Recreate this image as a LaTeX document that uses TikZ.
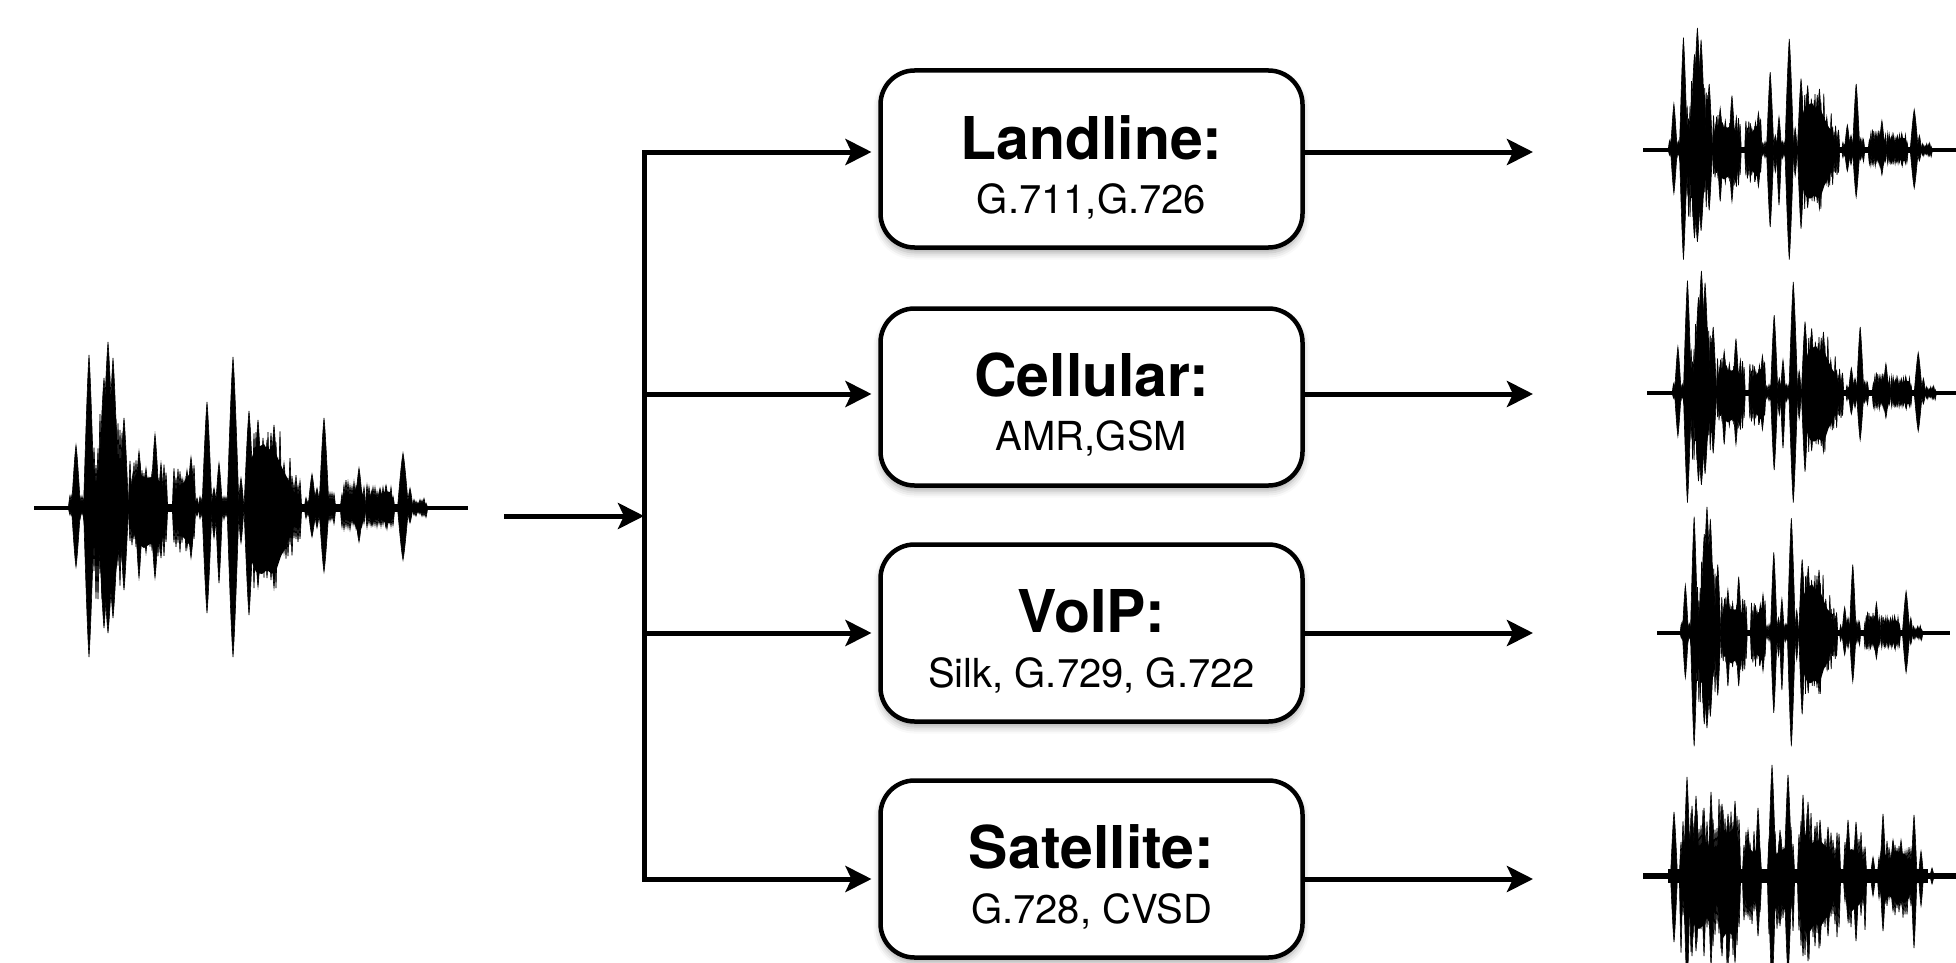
\documentclass[tikz,border=0pt]{standalone}
\usepackage{fontspec}
\setmainfont{TeX Gyre Heros}
\usetikzlibrary{arrows.meta,shadows.blur}

% one burst of a speech waveform: centre, height above axis, depth below, half width
\newcommand\wspike[4]{%
  \filldraw[line width=0.6pt] (#1-#4,0)
    .. controls (#1-0.7*#4,0.35*#2) and (#1-0.3*#4,0.85*#2) .. (#1,#2)
    .. controls (#1+0.3*#4,0.85*#2) and (#1+0.7*#4,0.35*#2) .. (#1+#4,0)
    .. controls (#1+0.7*#4,-0.35*#3) and (#1+0.3*#4,-0.85*#3) .. (#1,-#3)
    .. controls (#1-0.3*#4,-0.85*#3) and (#1-0.7*#4,-0.35*#3) .. cycle;}

% fine texture: thin bursts of random size every 2 units over a stretch
\newcommand\whair[1]{%
  \foreach \ha/\hb/\hu/\hd in {#1} {%
    \pgfmathtruncatemacro\hn{(\hb-\ha)/2}%
    \foreach \hi in {0,...,\hn} {%
      \pgfmathsetmacro\hx{\ha+2*\hi}%
      \pgfmathsetmacro\hh{\hu*(0.45+0.55*rnd)}%
      \pgfmathsetmacro\hdd{\hd*(0.45+0.55*rnd)}%
      \wspike{\hx}{\hh}{\hdd}{1.7}}}}

% bursts of the clean utterance (x from 0 to 434)
\def\speechspikes{42/63/59/4.5, 55/153/149/5.5, 64/25/20/3, 70/130/120/6,
  74/166/125/7, 79/150/110/6, 90/90/82/4.5, 99/35/30/3, 105/57/70/4,
  112/40/45/3, 121/74/70/4.5, 127/45/50/3, 148/30/30/3, 153/38/40/3,
  157/51/50/4, 163/10/8/2, 173/106/105/5, 180/20/30/3, 185/45/75/3.5,
  199/151/149/6, 207/30/35/3, 215/97/107/5, 224/88/79/4.5, 229/70/65/3,
  233/68/70/3, 237/75/72/3, 240/83/80/4.5, 250/45/45/3, 278/34/29/4,
  283/20/20/3, 290/90/64/5, 313/12/10/3, 320/20/16/3, 325/40/34/4,
  338/18/18/3, 346/20/15/3, 352/23/20/3, 369/55/52/5.5, 376/20/15/3, 388/6/5/2}

% clean utterance in local units, axis at y=0, amplitude upwards
\newcommand\speechwave{%
  \pgfmathsetseed{4711}%
  \draw[line width=4.5pt] (0,0) -- (434,0);
  \fill (38,-4) rectangle (392,4);
  \fill (60,5) -- (63,30) -- (67,55) -- (72,70) -- (77,75) -- (81,55) -- (85,30) -- (88,8)
     -- (85,-40) -- (81,-70) -- (77,-85) -- (72,-80) -- (67,-60) -- (63,-30) -- (60,-5) -- cycle;
  \fill (94,4) -- (97,22) -- (100,30) -- (104,38) -- (108,32) -- (113,30) -- (118,31) -- (124,28)
     -- (128,25) -- (132,6) -- (132,-8) -- (128,-34) -- (122,-38) -- (116,-36) -- (110,-40)
     -- (104,-36) -- (100,-26) -- (96,-5) -- cycle;
  \fill (140,4) -- (142,16) -- (146,22) -- (150,26) -- (154,32) -- (158,38) -- (161,8)
     -- (161,-10) -- (158,-40) -- (154,-35) -- (150,-30) -- (146,-26) -- (142,-18) -- (140,-4) -- cycle;
  \fill (214,8) -- (217,48) -- (221,60) -- (226,62) -- (230,64) -- (234,57) -- (238,62) -- (242,54)
     -- (246,45) -- (250,36) -- (254,29) -- (258,20) -- (262,12) -- (267,4)
     -- (267,-4) -- (262,-14) -- (257,-26) -- (252,-39) -- (247,-48) -- (243,-60) -- (238,-66)
     -- (233,-62) -- (228,-66) -- (222,-64) -- (217,-52) -- (214,-10) -- cycle;
  \fill (308,3) -- (312,8) -- (316,12) -- (320,15) -- (324,26) -- (328,17) -- (331,4)
     -- (331,-4) -- (328,-19) -- (324,-26) -- (320,-14) -- (316,-10) -- (312,-7) -- (308,-3) -- cycle;
  \fill (333,3) -- (336,12) -- (340,14) -- (344,10) -- (348,15) -- (352,17) -- (356,16) -- (360,7)
     -- (360,-7) -- (356,-15) -- (352,-15) -- (348,-12) -- (344,-9) -- (340,-13) -- (336,-10) -- (333,-3) -- cycle;
  \whair{36/50/14/14, 60/88/95/95, 96/132/48/50, 140/161/44/48, 166/196/12/12,
         214/246/82/82, 246/267/50/52, 272/300/16/16, 308/331/28/27, 333/360/24/22, 380/392/10/10}
  \foreach \px/\pu/\pd/\pw in \speechspikes {\wspike{\px}{\pu}{\pd}{\pw}}
}

% bursts of the noisy satellite version
\def\satspikes{31/64/66/3.5, 44/99/115/3.5, 49/70/80/2.5, 53/80/75/3, 61/68/80/2.5,
  68/84/90/3, 79/72/80/3, 85/62/90/3, 92/75/85/3, 105/46/40/3, 115/68/60/3,
  129/111/115/4, 137/46/50/2.5, 145/101/100/4, 160/81/80/3, 165/74/85/3,
  172/50/70/2.5, 177/56/70/3, 185/49/60/3, 205/56/45/3, 213/54/65/3,
  230/19/20/2.5, 240/62/55/3, 250/36/35/3, 258/36/30/3, 271/61/72/3,
  278/25/30/2.5, 289/8/8/2}

\newcommand\satwave{%
  \pgfmathsetseed{2024}%
  \draw[line width=5.5pt] (0,0) -- (320,0);
  \fill (25,-7) rectangle (285,7);
  \fill (40,8) -- (44,28) -- (48,27) -- (52,35) -- (56,30) -- (60,32) -- (64,28) -- (68,35) -- (72,14)
     -- (72,-18) -- (68,-50) -- (64,-42) -- (60,-50) -- (56,-53) -- (52,-50) -- (48,-42) -- (44,-32) -- (40,-8) -- cycle;
  \fill (74,8) -- (76,40) -- (80,47) -- (84,43) -- (88,45) -- (92,50) -- (95,36) -- (97,8)
     -- (97,-8) -- (95,-50) -- (92,-62) -- (88,-58) -- (84,-56) -- (80,-62) -- (76,-50) -- (74,-8) -- cycle;
  \fill (101,5) -- (103,25) -- (107,27) -- (111,23) -- (115,29) -- (118,6)
     -- (118,-6) -- (115,-32) -- (111,-25) -- (107,-32) -- (103,-27) -- (101,-5) -- cycle;
  \fill (126,5) -- (128,28) -- (133,22) -- (138,25) -- (142,28) -- (148,32) -- (150,8)
     -- (150,-8) -- (148,-36) -- (142,-34) -- (138,-28) -- (133,-32) -- (128,-36) -- (126,-5) -- cycle;
  \fill (156,6) -- (159,43) -- (164,40) -- (168,32) -- (172,35) -- (177,36) -- (182,30) -- (186,27)
     -- (190,18) -- (196,5) -- (196,-5) -- (190,-28) -- (186,-40) -- (182,-43) -- (177,-52)
     -- (172,-47) -- (168,-54) -- (164,-58) -- (159,-50) -- (156,-6) -- cycle;
  \fill (202,5) -- (204,22) -- (208,27) -- (212,25) -- (216,22) -- (220,16) -- (222,5)
     -- (222,-5) -- (220,-22) -- (216,-29) -- (212,-32) -- (208,-36) -- (204,-25) -- (202,-5) -- cycle;
  \fill (236,5) -- (238,14) -- (242,22) -- (246,16) -- (250,22) -- (254,25) -- (258,23) -- (262,22)
     -- (266,14) -- (270,5) -- (270,-5) -- (266,-22) -- (262,-27) -- (258,-25) -- (254,-29)
     -- (250,-23) -- (246,-20) -- (242,-25) -- (238,-18) -- (236,-5) -- cycle;
  \whair{38/72/66/85, 74/97/78/95, 101/118/45/48, 126/150/50/58, 156/176/66/84,
         176/196/50/62, 202/222/44/54, 236/270/38/44}
  \foreach \px/\pu/\pd/\pw in \satspikes {\wspike{\px}{\pu}{\pd}{\pw}}
}

\begin{document}
\begin{tikzpicture}[x=1pt, y=-1pt,
  codec/.style={draw=black, line width=4.5pt, rounded corners=34pt, fill=white,
    minimum width=422pt, minimum height=177pt, inner sep=0pt, outer sep=0pt,
    blur shadow={shadow xshift=0pt, shadow yshift=-5pt, shadow blur radius=7pt, shadow opacity=35}},
  title/.style={font=\fontsize{59}{60}\selectfont\bfseries, inner sep=0pt, anchor=base},
  sub/.style={font=\fontsize{40}{42}\selectfont, inner sep=0pt, anchor=base},
  conn/.style={line width=5pt, line join=miter},
  arr/.style={conn, -{Stealth[length=26pt, width=26pt, inset=6pt]}},
  toBox/.style={arr, shorten >=9pt},
]
\useasboundingbox (0,0) rectangle (1956,963);

% waveforms: input on the left, one decoded output per channel on the right
\begin{scope}
  \clip (0,0) rectangle (1956,963);
  \begin{scope}[shift={(34,508)}, yscale=-1]
    \speechwave
  \end{scope}
  \begin{scope}[shift={(1643,150)}, xscale=0.735, yscale=-0.735]
    \speechwave
  \end{scope}
  \begin{scope}[shift={(1647,393)}, xscale=0.735, yscale=-0.735]
    \speechwave
  \end{scope}
  \begin{scope}[shift={(1657,633)}, xscale=0.675, yscale=-0.76]
    \speechwave
  \end{scope}
  \begin{scope}[shift={(1643,876)}, yscale=-1]
    \satwave
  \end{scope}
\end{scope}

% channel boxes
\node[codec] (b1) at (1091.5,159) {};
\node[codec] (b2) at (1091.5,397) {};
\node[codec] (b3) at (1091.5,633) {};
\node[codec] (b4) at (1091.5,869) {};

\node[title] (t1) at (1091.5,159) {Landline:};
\node[sub]   (s1) at (1091.5,213) {G.711,G.726};
\node[title] (t2) at (1091.5,396) {Cellular:};
\node[sub]   (s2) at (1091.5,450) {AMR,GSM};
\node[title] (t3) at (1091.5,632) {VoIP:};
\node[sub]   (s3) at (1091.5,687) {Silk, G.729, G.722};
\node[title] (t4) at (1091.5,868) {Satellite:};
\node[sub]   (s4) at (1091.5,923) {G.728, CVSD};

% junction points on the distribution bus
\coordinate (src) at (504,516);
\coordinate (jin) at (644,516);
\coordinate (jt)  at (644,152);
\coordinate (j2)  at (644,394);
\coordinate (j3)  at (644,633);
\coordinate (jb)  at (644,879);

% free ends of the output arrows
\coordinate (o1) at (1533,152);
\coordinate (o2) at (1533,394);
\coordinate (o3) at (1533,633);
\coordinate (o4) at (1533,879);

% input into the bus, bus into the four channels
\draw[arr] (src) -- (jin);
\draw[toBox] (jb) -- (jt) -- (b1.west |- jt);
\draw[toBox] (jt) -- (jb) -- (b4.west |- jb);
\draw[toBox] (j2) -- (b2.west |- j2);
\draw[toBox] (j3) -- (b3.west |- j3);

% channel outputs
\draw[arr] (b1.east |- o1) -- (o1);
\draw[arr] (b2.east |- o2) -- (o2);
\draw[arr] (b3.east |- o3) -- (o3);
\draw[arr] (b4.east |- o4) -- (o4);
\end{tikzpicture}
\end{document}
